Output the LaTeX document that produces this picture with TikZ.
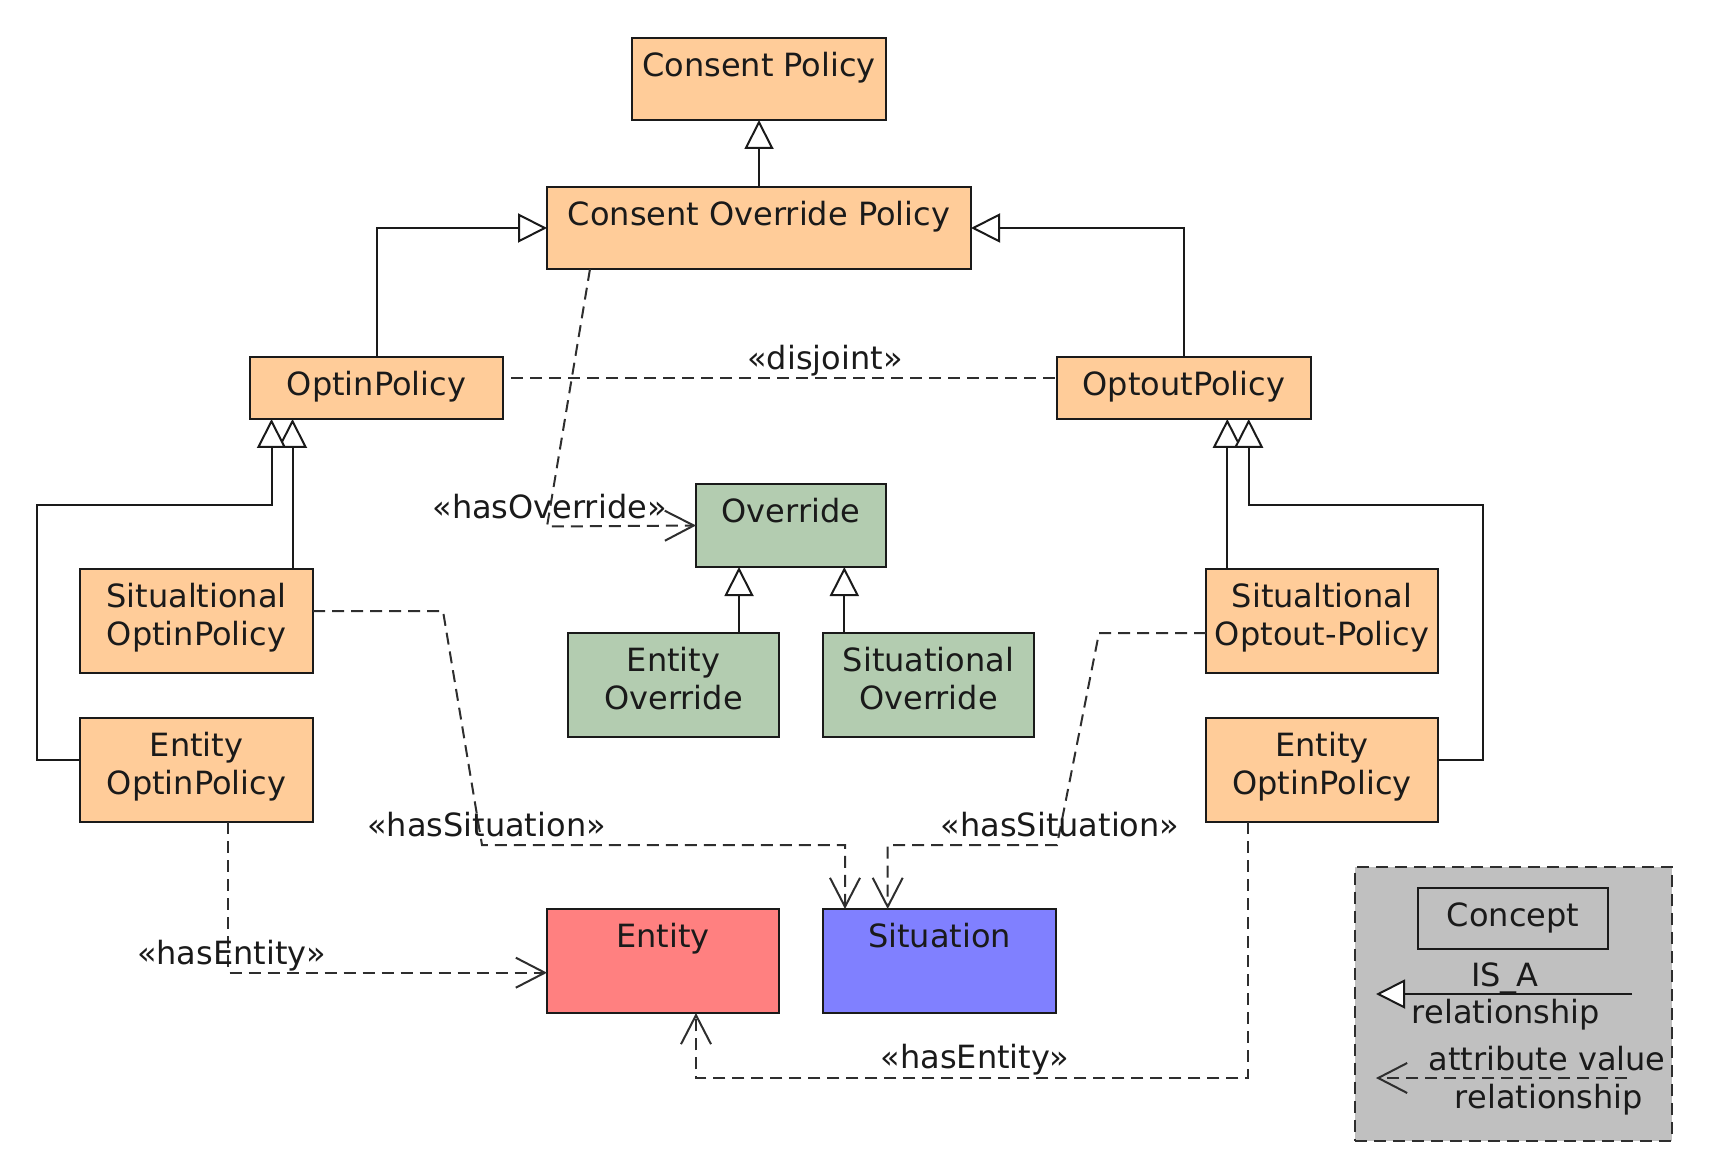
\documentclass[tikz,border=0pt]{standalone}
\usepackage{fontspec}
\setmainfont{DejaVu Sans}
\usetikzlibrary{arrows.meta}

\definecolor{peach}{HTML}{FFCC99}
\definecolor{sage}{HTML}{B3CCB0}
\definecolor{salmon}{HTML}{FF8080}
\definecolor{periwinkle}{HTML}{8080FF}
\definecolor{legendgray}{HTML}{C0C0C0}
\definecolor{ink}{HTML}{1A1A1A}
\definecolor{dashink}{HTML}{2E2E2E}

\begin{document}
\begin{tikzpicture}[x=1pt,y=-1pt,
  font=\fontsize{32}{38}\selectfont,
  every node/.style={text=ink},
  cls/.style={draw=ink, line width=2pt, rectangle, inner sep=0pt, outer sep=0pt, anchor=north west},
  policy/.style={cls, fill=peach},
  ovr/.style={cls, fill=sage},
  ttl/.style={anchor=base, inner sep=0pt, outer sep=0pt},
  isa/.style={draw=ink, line width=2pt, line join=miter,
    -{Triangle[length=29pt,width=29pt,fill=white,line join=miter]}},
  dashline/.style={draw=dashink, line width=2pt, dash pattern=on 12pt off 7pt},
  attr/.style={dashline, -{Straight Barb[length=29pt,width=30pt]}},
]
\useasboundingbox (0,0) rectangle (1714,1155);

% ---------- classes ----------
\node[policy, minimum width=254pt, minimum height=82pt] (cp) at (632,38) {};
\node[ttl] (cp-t) at ([yshift=-38.5pt]cp.north) {Consent Policy};

\node[policy, minimum width=424pt, minimum height=82pt] (cop) at (547,187) {};
\node[ttl] (cop-t) at ([yshift=-38.5pt]cop.north) {Consent Override Policy};

\node[policy, minimum width=253pt, minimum height=62pt] (oi) at (250,357) {};
\node[ttl] (oi-t) at ([yshift=-38.5pt]oi.north) {OptinPolicy};

\node[policy, minimum width=254pt, minimum height=62pt] (oo) at (1057,357) {};
\node[ttl] (oo-t) at ([yshift=-38.5pt]oo.north) {OptoutPolicy};

\node[ovr, minimum width=190pt, minimum height=83pt] (ov) at (696,484) {};
\node[ttl] (ov-t) at ([yshift=-38.5pt]ov.north) {Override};

\node[ovr, minimum width=211pt, minimum height=104pt] (eo) at (568,633) {};
\node[ttl] (eo-t1) at ([yshift=-38.5pt]eo.north) {Entity};
\node[ttl] (eo-t2) at ([yshift=-76.5pt]eo.north) {Override};

\node[ovr, minimum width=211pt, minimum height=104pt] (so) at (823,633) {};
\node[ttl] (so-t1) at ([yshift=-38.5pt]so.north) {Situational};
\node[ttl] (so-t2) at ([yshift=-76.5pt]so.north) {Override};

\node[policy, minimum width=233pt, minimum height=104pt] (sio) at (80,569) {};
\node[ttl] (sio-t1) at ([yshift=-38.5pt]sio.north) {Situaltional};
\node[ttl] (sio-t2) at ([yshift=-76.5pt]sio.north) {OptinPolicy};

\node[policy, minimum width=233pt, minimum height=104pt] (eil) at (80,718) {};
\node[ttl] (eil-t1) at ([yshift=-38.5pt]eil.north) {Entity};
\node[ttl] (eil-t2) at ([yshift=-76.5pt]eil.north) {OptinPolicy};

\node[policy, minimum width=232pt, minimum height=104pt] (sot) at (1206,569) {};
\node[ttl] (sot-t1) at ([yshift=-38.5pt]sot.north) {Situaltional};
\node[ttl] (sot-t2) at ([yshift=-76.5pt]sot.north) {Optout-Policy};

\node[policy, minimum width=232pt, minimum height=104pt] (eir) at (1206,718) {};
\node[ttl] (eir-t1) at ([yshift=-38.5pt]eir.north) {Entity};
\node[ttl] (eir-t2) at ([yshift=-76.5pt]eir.north) {OptinPolicy};

\node[cls, fill=salmon, minimum width=232pt, minimum height=104pt] (ent) at (547,909) {};
\node[ttl] (ent-t) at ([yshift=-38.5pt]ent.north) {Entity};

\node[cls, fill=periwinkle, minimum width=233pt, minimum height=104pt] (sit) at (823,909) {};
\node[ttl] (sit-t) at ([yshift=-38.5pt]sit.north) {Situation};

% ---------- IS_A relationships ----------
\draw[isa] (cop.north) -- (cp.south);
\draw[isa] (oi.north) |- (cop.west);
\draw[isa] (oo.north) |- (cop.east);
\draw[isa] ([xshift=-52pt]ov.south |- eo.north) -- ([xshift=-52pt]ov.south);
\draw[isa] ([xshift=53.3pt]ov.south |- so.north) -- ([xshift=53.3pt]ov.south);
\draw[isa] ([xshift=-84pt]oi.south |- sio.north) -- ([xshift=-84pt]oi.south);
\draw[isa] ([yshift=10pt]eil.west) -| (37,505) -| ([xshift=-105pt]oi.south);
\draw[isa] ([xshift=43.3pt]oo.south |- sot.north) -- ([xshift=43.3pt]oo.south);
\draw[isa] ([yshift=10pt]eir.east) -| (1482.7,505) -| ([xshift=64.7pt]oo.south);

% ---------- attribute value relationships ----------
\draw[dashline] ([shift={(8,-10)}]oi.east) -- ([yshift=10pt]oo.west);
\node[ttl] (disj) at (825,370) {«disjoint»};

\draw[attr] ([xshift=43pt]cop.south west) -- (547,526.5) -- (ov.west);
\node[ttl] (hasov) at (549.5,518.5) {«hasOverride»};

\draw[attr] ([yshift=10pt]sio.east) -- (443,611) -- (482,845) -| ([xshift=22pt]sit.north west);
\node[ttl] (hassit-l) at (486.5,836.7) {«hasSituation»};

\draw[attr] ([yshift=-12pt]sot.west) -- (1099,633) -- (1057,845) -| ([xshift=64.7pt]sit.north west);
\node[ttl] (hassit-r) at (1060,836.7) {«hasSituation»};

\draw[attr] ([xshift=31.8pt]eil.south) |- ([yshift=-11.7pt]ent.west);
\node[ttl] (hasent-l) at (231.3,964) {«hasEntity»};

\draw[attr] ([xshift=-73.7pt]eir.south) -- ++(0,256) -| ([xshift=33pt]ent.south);
\node[ttl] (hasent-r) at (975,1068.3) {«hasEntity»};

% ---------- legend ----------
\node[cls, fill=legendgray, dashline, minimum width=316.5pt, minimum height=273.5pt] (legend) at (1355,867) {};
\node[cls, minimum width=190pt, minimum height=61pt] (concept) at (1418,888) {};
\node[ttl] (concept-t) at ([yshift=-38pt]concept.north) {Concept};

\coordinate (isa-from) at (1632,994);
\coordinate (isa-to) at (1376,994);
\draw[isa] (isa-from) -- (isa-to);
\node[ttl] (isa-t1) at (1505,986) {IS\_A};
\node[ttl] (isa-t2) at (1506,1023) {relationship};

\coordinate (av-from) at (1627,1078);
\coordinate (av-to) at (1376,1078);
\draw[attr] (av-from) -- (av-to);
\node[ttl] (av-t1) at (1547,1070) {attribute value};
\node[ttl] (av-t2) at (1549,1108) {relationship};
\end{tikzpicture}
\end{document}
